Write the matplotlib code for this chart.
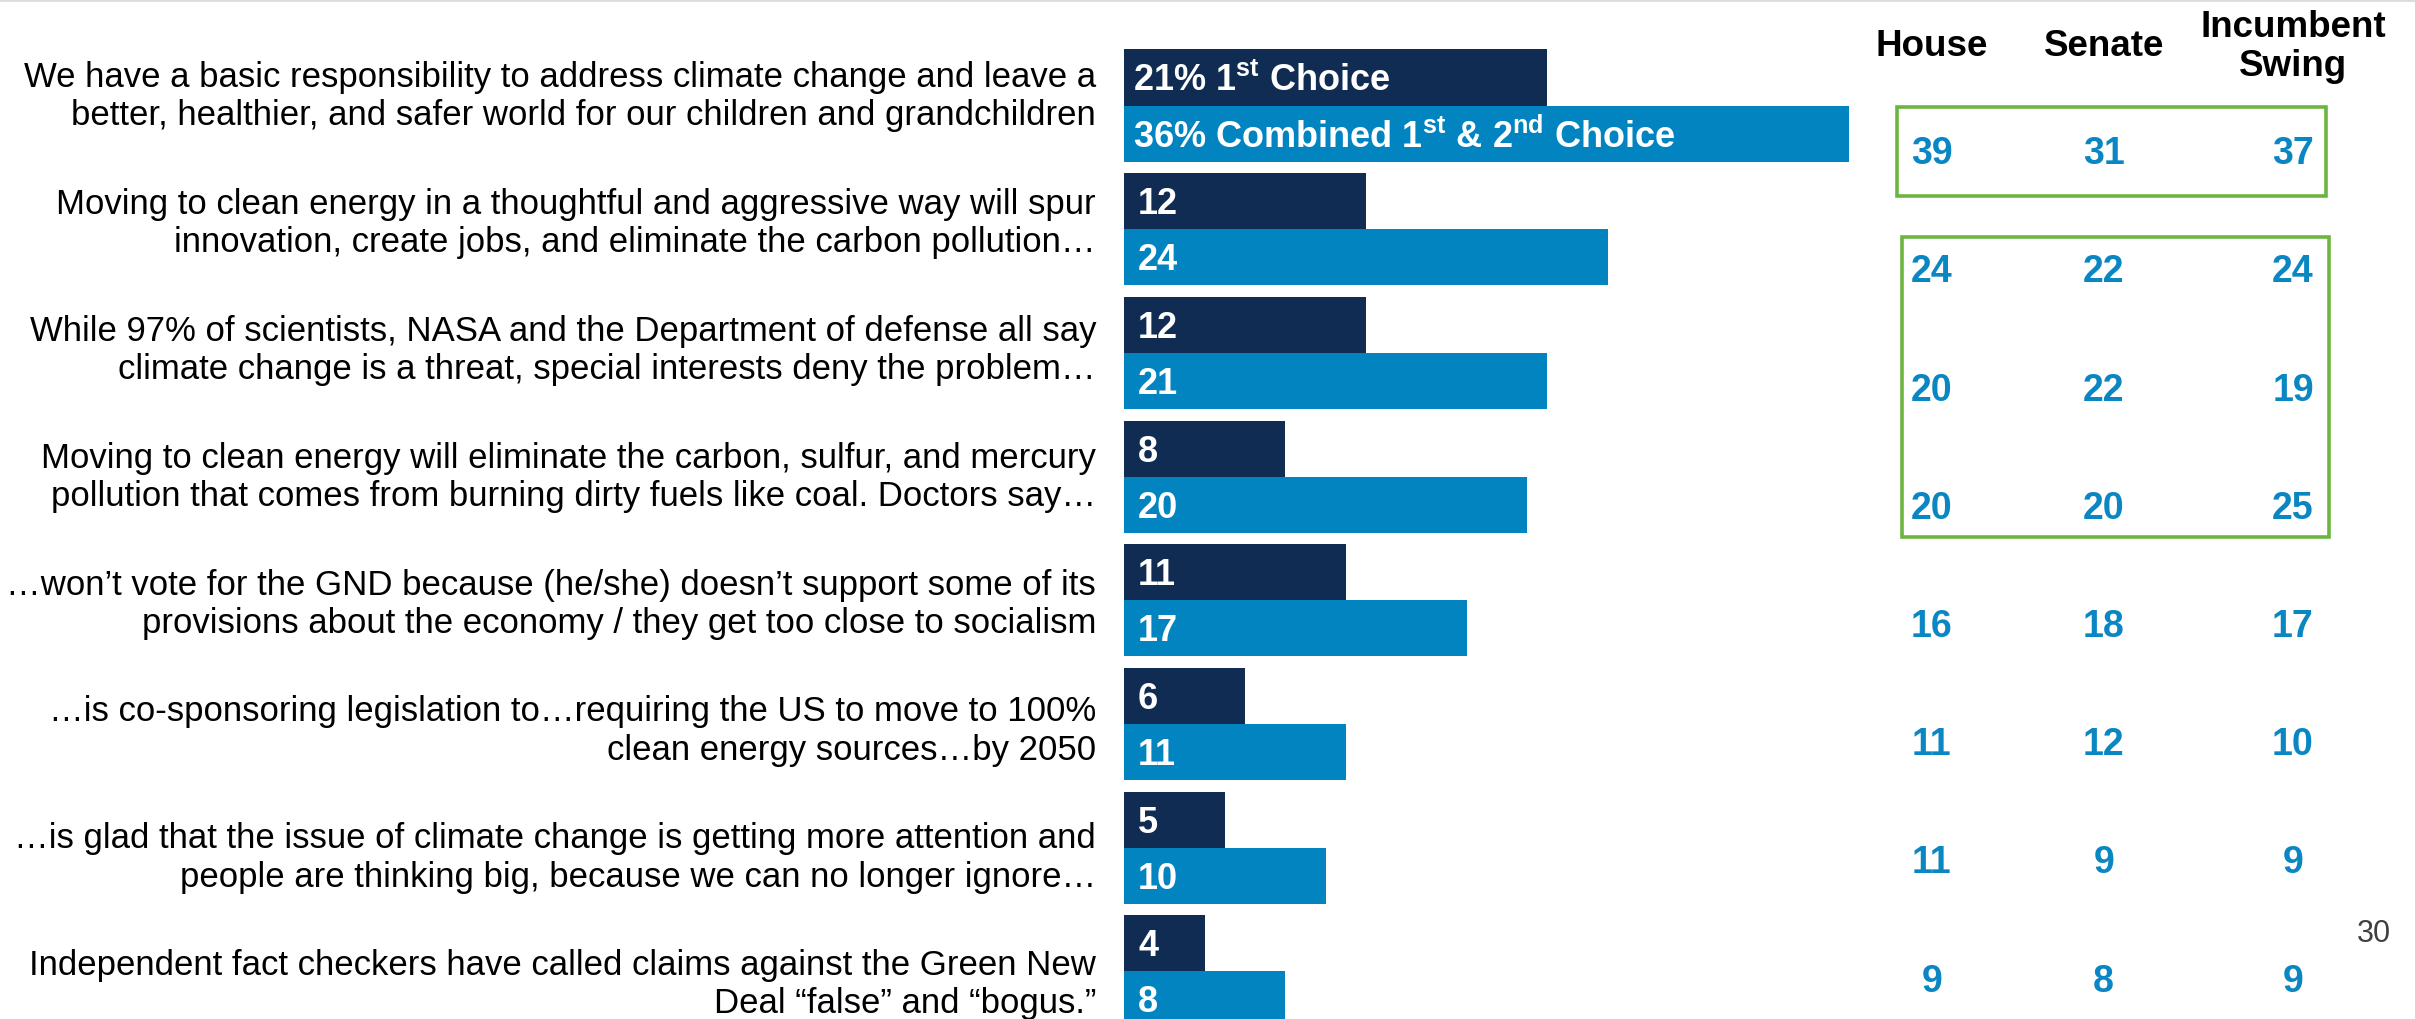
import matplotlib
matplotlib.use("Agg")
import matplotlib.pyplot as plt
from matplotlib.patches import Rectangle
from matplotlib.lines import Line2D

# Couleurs du modèle
DARK = '#102C53'
LIGHT = '#0284C1'
NUM = '#0A86C3'
GREEN = '#6DB543'

plt.rcParams['font.family'] = ['Liberation Sans', 'DejaVu Sans']
plt.rcParams['mathtext.fontset'] = 'custom'
plt.rcParams['mathtext.rm'] = 'Liberation Sans:bold'

# Données
statements = [
    "We have a basic responsibility to address climate change and leave a\nbetter, healthier, and safer world for our children and grandchildren",
    "Moving to clean energy in a thoughtful and aggressive way will spur\ninnovation, create jobs, and eliminate the carbon pollution\u2026",
    "While 97% of scientists, NASA and the Department of defense all say\nclimate change is a threat, special interests deny the problem\u2026",
    "Moving to clean energy will eliminate the carbon, sulfur, and mercury\npollution that comes from burning dirty fuels like coal. Doctors say\u2026",
    "\u2026won\u2019t vote for the GND because (he/she) doesn\u2019t support some of its\nprovisions about the economy / they get too close to socialism",
    "\u2026is co-sponsoring legislation to\u2026requiring the US to move to 100%\nclean energy sources\u2026by 2050",
    "\u2026is glad that the issue of climate change is getting more attention and\npeople are thinking big, because we can no longer ignore\u2026",
    "Independent fact checkers have called claims against the Green New\nDeal \u201cfalse\u201d and \u201cbogus.\u201d",
]
first_choice = [21, 12, 12, 8, 11, 6, 5, 4]
combined = [36, 24, 21, 20, 17, 11, 10, 8]

columns = ["House", "Senate", "Incumbent\nSwing"]
house = [39, 24, 20, 20, 16, 11, 11, 9]
senate = [31, 22, 22, 20, 18, 12, 9, 8]
swing = [37, 24, 19, 25, 17, 10, 9, 9]

W, H = 2415, 1020
fig = plt.figure(figsize=(W / 100, H / 100), dpi=100)

# Axe des barres
x0, scale = 1124, 20.15
pitch, c0 = 123.7, 106.5
ax = fig.add_axes([x0 / W, 0, (W - x0) / W, 1])
ax.set_xlim(0, (W - x0) / scale)
ax.set_ylim((H - c0) / pitch, -c0 / pitch)
ax.axis('off')

h = 0.453
ys = list(range(len(statements)))
ax.barh([y - h / 2 for y in ys], first_choice, height=h, color=DARK)
ax.barh([y + h / 2 for y in ys], combined, height=h, color=LIGHT)

# les libellés de gauche ont un pas un peu plus grand que les barres
text_pitch = 126.9 / pitch
text_off = -10 / pitch

for i, y in enumerate(ys):
    if i == 0:
        lab1 = f"{first_choice[i]}% 1$^{{\\mathrm{{st}}}}$ Choice"
        lab2 = f"{combined[i]}% Combined 1$^{{\\mathrm{{st}}}}$ & 2$^{{\\mathrm{{nd}}}}$ Choice"
        xl = 0.45
    else:
        lab1, lab2 = str(first_choice[i]), str(combined[i])
        xl = 0.7
    ax.text(xl, y - h / 2 + 0.02, lab1, color='white', fontsize=26, fontweight='bold',
            va='center', ha='left')
    ax.text(xl, y + h / 2 + 0.02, lab2, color='white', fontsize=26, fontweight='bold',
            va='center', ha='left')
    ax.text((1096 - x0) / scale, text_off + i * text_pitch, statements[i], fontsize=25,
            ha='right', va='center', multialignment='right', linespacing=1.2,
            color='black', clip_on=False)

# Tableau de droite
tx0 = 1850
tab = fig.add_axes([tx0 / W, 0, (W - tx0) / W, 1])
tab.set_xlim(0, 1)
r0, rp = 154.3, 118.2
tab.set_ylim((H - r0) / rp, -r0 / rp)
tab.axis('off')

col_x = [0.145, 0.449, 0.784]
for cx, name in zip(col_x, columns):
    tab.text(cx, -0.91, name, fontsize=26.5, fontweight='bold', ha='center',
             va='center', linespacing=1.15)
for j, vals in enumerate([house, senate, swing]):
    for i, v in enumerate(vals):
        tab.text(col_x[j], i, str(v), fontsize=27, fontweight='bold', color=NUM,
                 ha='center', va='center')

# Cadres verts
tab.add_patch(Rectangle((0.083, -0.392), 0.759, 0.753, fill=False,
                        edgecolor=GREEN, lw=2.6))
tab.add_patch(Rectangle((0.092, 0.708), 0.756, 2.54, fill=False,
                        edgecolor=GREEN, lw=2.6))

# Numéro de page et filet
fig.text(2374 / W, 1 - 934 / H, "30", fontsize=22, color='#404040',
         ha='center', va='center')
fig.add_artist(Line2D([0, 1], [0.999, 0.999], color='#dcdcdc', lw=2))

fig.savefig("out.png", dpi=100)
